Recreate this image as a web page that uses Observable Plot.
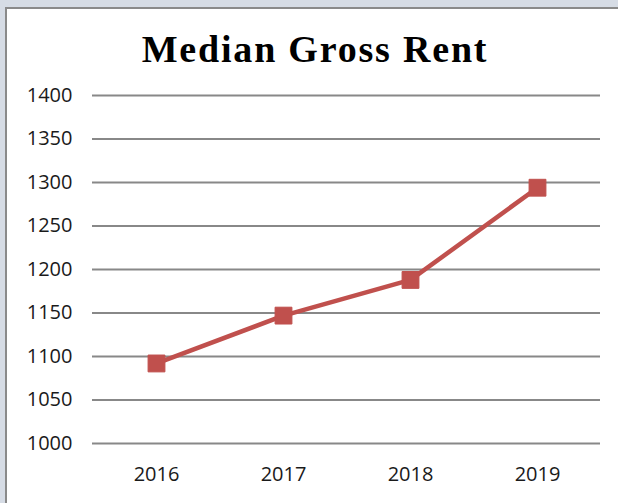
<!DOCTYPE html>
<html>
<head>
<meta charset="utf-8">
<script src="https://cdn.jsdelivr.net/npm/d3@7"></script>
<script src="https://cdn.jsdelivr.net/npm/@observablehq/plot@0.6"></script>
<style>
  html, body { margin: 0; padding: 0; background: #d6dce5; overflow: hidden; width: 618px; height: 503px; }
  #frame { position: absolute; left: 5px; top: 7px; width: 640px; height: 520px; background: #fff;
           border-top: 2px solid #8a8a8a; border-left: 2px solid #8a8a8a; }
  #content { position: absolute; left: 0; top: 0; width: 618px; height: 503px; }
  #title { height: 80px; margin: 0; font-family: "Liberation Serif", serif; font-weight: bold;
           font-size: 38px; letter-spacing: 1.8px; color: #000; text-align: center; line-height: 1; box-sizing: border-box;
           padding-top: 30px; padding-left: 12px; }
  svg { display: block; }
</style>
</head>
<body>
<div id="frame"></div>
<div id="content">
  <div id="title">Median Gross Rent</div>
  <div id="chart"></div>
</div>
<script>
const years = ["2016", "2017", "2018", "2019"];
const rents = [1092, 1147, 1188, 1294];
const yTicks = [1000, 1050, 1100, 1150, 1200, 1250, 1300, 1350, 1400];

const data = years.map((y, i) => ({year: y, rent: rents[i]}));

const chart = Plot.plot({
  width: 618,
  height: 423,
  marginLeft: 92,
  marginRight: 18,
  marginTop: 15,
  marginBottom: 60,
  style: {background: "transparent", fontFamily: "'Open Sans', sans-serif", fontSize: "20px", color: "#1a1a1a"},
  x: {type: "point", domain: years, padding: 0.5, label: null},
  y: {domain: [1000, 1400], label: null},
  marks: [
    Plot.ruleY(yTicks, {stroke: "#888", strokeWidth: 2, strokeOpacity: 1}),
    Plot.axisY({ticks: yTicks, tickFormat: d3.format("d"), tickSize: 0, tickPadding: 20, label: null, fill: "#1a1a1a"}),
    Plot.axisX({tickSize: 0, tickPadding: 23, label: null, fill: "#1a1a1a"}),
    Plot.line(data, {x: "year", y: "rent", stroke: "#c0504d", strokeWidth: 4.5}),
    Plot.dot(data, {x: "year", y: "rent", symbol: "square", r: 9.5, fill: "#c0504d", stroke: "#c0504d", strokeWidth: 1})
  ]
});
document.getElementById("chart").appendChild(chart);
</script>
</body>
</html>
